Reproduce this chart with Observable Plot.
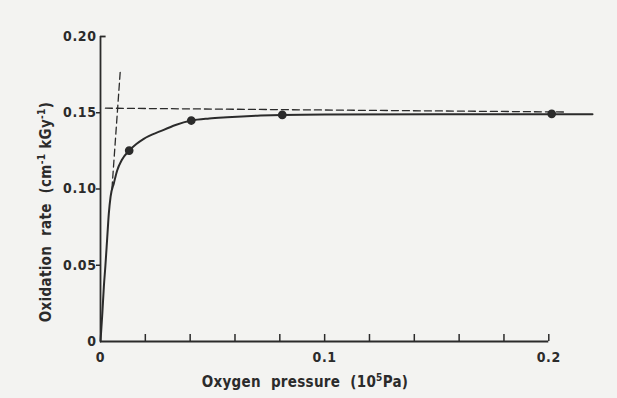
<!DOCTYPE html>
<html><head><meta charset="utf-8">
<script src="https://cdn.jsdelivr.net/npm/d3@7"></script>
<script src="https://cdn.jsdelivr.net/npm/@observablehq/plot@0.6"></script>
<style>
html,body{margin:0;padding:0;background:#f3f3f1;}
svg{font-family:"DejaVu Sans Condensed","Liberation Sans Narrow",sans-serif;font-weight:bold;}
</style>
</head><body>
<div id="chart"></div>
<script>
// measured points
const pressure = [0.0128, 0.0405, 0.0811, 0.2013];
const rate = [0.1252, 0.1449, 0.1486, 0.1493];
// hand-drawn fit curve
const curveX = [0, 0.0008, 0.0015, 0.0022, 0.003, 0.0037, 0.0045, 0.006, 0.0074, 0.0095, 0.0128, 0.016, 0.0193, 0.0268, 0.0335, 0.0405, 0.0485, 0.0565, 0.0714, 0.0811, 0.1, 0.15, 0.2195];
const curveY = [0, 0.018, 0.036, 0.05, 0.068, 0.0837, 0.095, 0.104, 0.112, 0.119, 0.1252, 0.1295, 0.1329, 0.1379, 0.142, 0.1449, 0.1463, 0.1471, 0.1482, 0.1486, 0.1489, 0.149, 0.149];
// dashed asymptote and initial slope
const asymX = [0.0022, 0.207];
const asymY = [0.153, 0.1505];
const slopeX = [0.0051, 0.0089];
const slopeY = [0.100, 0.179];
// axes
const xLabelTicks = [0, 0.1, 0.2];
const xLabelText = ["0", "0.1", "0.2"];
const xMinorTicks = [0.02, 0.04, 0.06, 0.08, 0.1, 0.12, 0.14, 0.16, 0.18, 0.2];
const yLabelTicks = [0, 0.05, 0.1, 0.15, 0.2];
const yLabelText = ["0", "0.05", "0.10", "0.15", "0.20"];
const yOuterTicks = [0.05, 0.1, 0.15];
// titles: [text, superscript] pieces
const xTitleParts = [["Oxygen  pressure  (10", false], ["5", true], ["Pa)", false]];
const yTitleParts = [["Oxidation  rate  (cm", false], ["-1", true], [" kGy", false], ["-1", true], [")", false]];

const points = pressure.map((x, i) => ({x, y: rate[i]}));
const curve = curveX.map((x, i) => ({x, y: curveY[i]}));
const asym = asymX.map((x, i) => ({x, y: asymY[i]}));
const slope = slopeX.map((x, i) => ({x, y: slopeY[i]}));
const ink = "#2b2b2b";

const chart = Plot.plot({
  width: 617, height: 398,
  marginLeft: 100, marginRight: 25, marginTop: 36, marginBottom: 57,
  style: {background: "#f3f3f1", color: ink, fontSize: "14px", letterSpacing: "0.6px", overflow: "visible"},
  x: {domain: [0, 0.2195]},
  y: {domain: [0, 0.2]},
  marks: [
    Plot.ruleY([0], {x1: 0, x2: 0.2, stroke: ink, strokeWidth: 1.8}),
    Plot.ruleX([0], {y1: 0, y2: 0.2, stroke: ink, strokeWidth: 1.8}),
    Plot.ruleX(xMinorTicks, {y1: 0, y2: 0.0046, stroke: ink, strokeWidth: 1.5}),
    Plot.ruleY([0.2], {x1: 0, x2: 0.0025, stroke: ink, strokeWidth: 1.8}),
    Plot.axisX({ticks: xLabelTicks, tickSize: 0, tickPadding: 11, tickFormat: (d, i) => xLabelText[i], label: null, fontSize: 14}),
    Plot.axisY({ticks: yOuterTicks, tickSize: 4, tickFormat: () => "", label: null, strokeWidth: 1.5}),
    Plot.axisY({ticks: yLabelTicks, tickSize: 0, tickPadding: 4, tickFormat: (d, i) => yLabelText[i], label: null, fontSize: 14}),
    Plot.line(asym, {x: "x", y: "y", stroke: ink, strokeWidth: 1.3, strokeDasharray: "7,4"}),
    Plot.line(slope, {x: "x", y: "y", stroke: ink, strokeWidth: 1.3, strokeDasharray: "7,4"}),
    Plot.line(curve, {x: "x", y: "y", curve: "monotone-x", stroke: ink, strokeWidth: 2}),
    Plot.dot(points, {x: "x", y: "y", r: 3.6, fill: ink, stroke: ink})
  ]
});
document.getElementById("chart").appendChild(chart);

const svg = d3.select(chart);
function addTitle(parts, transform) {
  const t = svg.append("text")
    .attr("transform", transform)
    .attr("text-anchor", "middle")
    .attr("fill", ink)
    .style("font-size", "15px")
    .style("letter-spacing", "0.3px")
    .style("word-spacing", "0px");
  parts.forEach(([s, sup], i) => {
    const ts = t.append("tspan").text(s).attr("xml:space", "preserve").style("white-space", "pre");
    if (sup) ts.attr("dy", -6).style("font-size", "10px");
    else if (i > 0 && parts[i - 1][1]) ts.attr("dy", 6);
  });
}
addTitle(xTitleParts, "translate(305,387)");
addTitle(yTitleParts, "translate(51,212) rotate(-90)");
</script>
</body></html>
